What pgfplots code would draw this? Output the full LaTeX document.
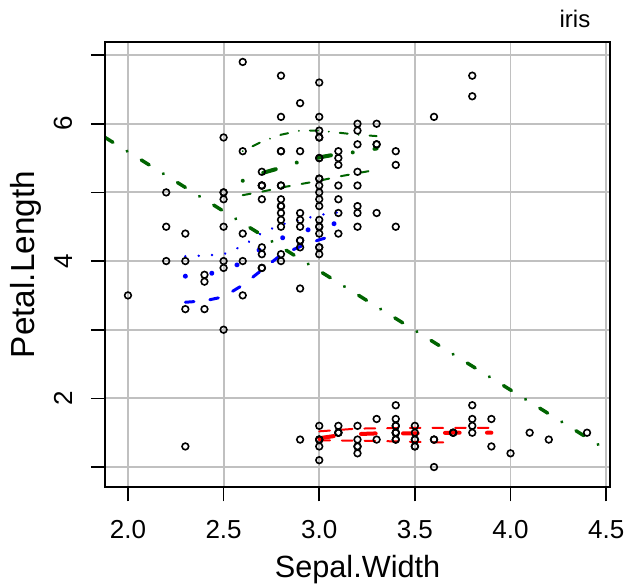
\documentclass[border=0pt]{standalone}
\usepackage{fontspec}
\setmainfont{Liberation Sans}
\usepackage{pgfplots}
\pgfplotsset{compat=1.18}
\definecolor{dg}{RGB}{0,100,0}
\definecolor{gridc}{RGB}{192,192,192}
\begin{document}
\begin{tikzpicture}
\useasboundingbox (-78.75pt,-73.275pt) rectangle (390.75pt,365.475pt);
\begin{axis}[
  at={(0,0)}, anchor=south west,
  scale only axis, width=378.75pt, height=334.2pt,
  xmin=1.88, xmax=4.52, ymin=0.705, ymax=7.195,
  xtick={2,2.5,3,3.5,4,4.5}, xticklabels={2.0,2.5,3.0,3.5,4.0,4.5},
  ytick={1,2,3,4,5,6,7}, yticklabels={,2,,4,,6,},
  xtick pos=bottom, ytick pos=left,
  tick align=outside, major tick length=10.5pt,
  tick style={black, line width=1.2pt},
  axis line style={line width=1.3pt},
  grid=major, grid style={gridc, line width=1.4pt},
  /pgf/number format/assume math mode=true,
  xticklabel style={font=\fontsize{19.5}{20}\selectfont, anchor=north, inner sep=0pt},
  yticklabel style={font=\fontsize{19.5}{20}\selectfont, rotate=90, anchor=south, inner sep=0pt},
  xticklabel shift=14pt, yticklabel shift=14pt,
]
\addplot[only marks, mark=o, mark size=2.5pt, mark options={line width=1.2pt, black}] coordinates {
(3.5,1.4)(3.0,1.4)(3.2,1.3)(3.1,1.5)(3.6,1.4)(3.9,1.7)(3.4,1.4)(3.4,1.5)(2.9,1.4)(3.1,1.5)
(3.7,1.5)(3.4,1.6)(3.0,1.4)(3.0,1.1)(4.0,1.2)(4.4,1.5)(3.9,1.3)(3.5,1.4)(3.8,1.7)(3.8,1.5)
(3.4,1.7)(3.7,1.5)(3.6,1.0)(3.3,1.7)(3.4,1.9)(3.0,1.6)(3.4,1.6)(3.5,1.5)(3.4,1.4)(3.2,1.6)
(3.1,1.6)(3.4,1.5)(4.1,1.5)(4.2,1.4)(3.1,1.5)(3.2,1.2)(3.5,1.3)(3.6,1.4)(3.0,1.3)(3.4,1.5)
(3.5,1.3)(2.3,1.3)(3.2,1.3)(3.5,1.6)(3.8,1.9)(3.0,1.4)(3.8,1.6)(3.2,1.4)(3.7,1.5)(3.3,1.4)
(3.2,4.7)(3.2,4.5)(3.1,4.9)(2.3,4.0)(2.8,4.6)(2.8,4.5)(3.3,4.7)(2.4,3.3)(2.9,4.6)(2.7,3.9)
(2.0,3.5)(3.0,4.2)(2.2,4.0)(2.9,4.7)(2.9,3.6)(3.1,4.4)(3.0,4.5)(2.7,4.1)(2.2,4.5)(2.5,3.9)
(3.2,4.8)(2.8,4.0)(2.5,4.9)(2.8,4.7)(2.9,4.3)(3.0,4.4)(2.8,4.8)(3.0,5.0)(2.9,4.5)(2.6,3.5)
(2.4,3.8)(2.4,3.7)(2.7,3.9)(2.7,5.1)(3.0,4.5)(3.4,4.5)(3.1,4.7)(2.3,4.4)(3.0,4.1)(2.5,4.0)
(2.6,4.4)(3.0,4.6)(2.6,4.0)(2.3,3.3)(2.7,4.2)(3.0,4.2)(2.9,4.2)(2.9,4.3)(2.5,3.0)(2.8,4.1)
(3.3,6.0)(2.7,5.1)(3.0,5.9)(2.9,5.6)(3.0,5.8)(3.0,6.6)(2.5,4.5)(2.9,6.3)(2.5,5.8)(3.6,6.1)
(3.2,5.1)(2.7,5.3)(3.0,5.5)(2.5,5.0)(2.8,5.1)(3.2,5.3)(3.0,5.5)(3.8,6.7)(2.6,6.9)(2.2,5.0)
(3.2,5.7)(2.8,4.9)(2.8,6.7)(2.7,4.9)(3.3,5.7)(3.2,6.0)(2.8,4.8)(3.0,4.9)(2.8,5.6)(3.0,5.8)
(2.8,6.1)(3.8,6.4)(2.8,5.6)(2.8,5.1)(2.6,5.6)(3.0,6.1)(3.4,5.6)(3.1,5.5)(3.0,4.8)(3.1,5.4)
(3.1,5.6)(3.1,5.1)(2.7,5.1)(3.2,5.9)(3.3,5.7)(3.0,5.2)(2.5,5.0)(3.0,5.2)(3.4,5.4)(3.0,5.1)
};
% setosa
\addplot[red, line width=3pt, line cap=round, dash pattern=on 11pt off 20.5pt] coordinates {(3.0,1.42)(3.1,1.46)(3.2,1.48)(3.3,1.49)(3.5,1.49)(3.7,1.50)(3.9,1.50)};
\addplot[red, line width=1.5pt, line cap=round, dash pattern=on 8pt off 9pt] coordinates {(3.0,1.52)(3.1,1.54)(3.2,1.56)(3.5,1.57)(3.9,1.57)};
\addplot[red, line width=1.5pt, line cap=round, dash pattern=on 8pt off 9pt] coordinates {(3.0,1.39)(3.3,1.38)(3.6,1.36)(3.65,1.36)};
% versicolor
\addplot[blue, line width=3.75pt, line cap=round, dash pattern=on 0.01pt off 20pt] coordinates {(2.3,3.78)(2.4,3.80)(2.5,3.86)(2.6,3.98)(2.7,4.19)(2.8,4.33)(2.9,4.43)(3.0,4.49)(3.1,4.56)};
\addplot[blue, line width=2pt, line cap=round, dash pattern=on 0.01pt off 10pt] coordinates {(2.3,4.07)(2.4,4.08)(2.5,4.10)(2.6,4.22)(2.7,4.41)(2.8,4.53)(2.9,4.60)(3.0,4.67)(3.1,4.71)};
\addplot[blue, line width=2.25pt, line cap=round, dash pattern=on 6.5pt off 12pt] coordinates {(2.3,3.40)(2.4,3.42)(2.5,3.48)(2.6,3.65)(2.7,3.87)(2.8,4.09)(2.9,4.21)(3.0,4.31)(3.1,4.39)};
% virginica
\addplot[dg, line width=3pt, line cap=round, dash pattern=on 0.01pt off 16.5pt on 9.75pt off 16.5pt] coordinates {(2.6,5.17)(2.7,5.28)(2.8,5.36)(2.9,5.45)(3.0,5.51)(3.1,5.56)(3.2,5.59)(3.3,5.64)};
\addplot[dg, line width=1.5pt, line cap=round, dash pattern=on 0.01pt off 8.25pt on 6pt off 8.25pt] coordinates {(2.6,5.60)(2.7,5.74)(2.8,5.84)(2.9,5.90)(3.0,5.90)(3.1,5.87)(3.2,5.84)(3.3,5.82)};
\addplot[dg, line width=1.5pt, line cap=round, dash pattern=on 6pt off 9pt] coordinates {(2.6,4.96)(2.7,5.01)(2.8,5.07)(2.9,5.12)(3.0,5.17)(3.1,5.23)(3.2,5.28)(3.3,5.33)};
% overall
\addplot[dg, line width=2.6pt, line cap=round, dash pattern=on 7pt off 12.5pt on 0.01pt off 12.5pt] coordinates {(1.88,5.8010)(4.52,1.2201)};
\end{axis}
\begin{axis}[
  at={(0,0)}, anchor=south west,
  scale only axis, width=378.75pt, height=334.2pt,
  xmin=1.88, xmax=4.52, ymin=0.705, ymax=7.195,
  axis line style={draw=none},
  xtick=\empty, ytick=\empty,
  minor xtick={1.9,1.95,...,4.5}, minor ytick={0.8,0.9,...,7.1},
  xtick pos=bottom, ytick pos=right,
  tick align=inside, minor tick length=2.5pt,
  minor tick style={black!75, line width=0.5pt},
]
\addplot[draw=none] coordinates {(2,2)};
\end{axis}
\draw[line width=1.3pt] (0,0) rectangle (378.75pt,334.2pt);
\node[anchor=base east, font=\fontsize{18}{20}\selectfont] at (367.5pt,344.5pt) {iris};
\node[anchor=base, font=\fontsize{23}{26}\selectfont] at (189.4pt,-67.3pt) {Sepal.Width};
\node[anchor=base, rotate=90, font=\fontsize{25}{28}\selectfont] at (-52.5pt,167.1pt) {Petal.Length};
\end{tikzpicture}
\end{document}
